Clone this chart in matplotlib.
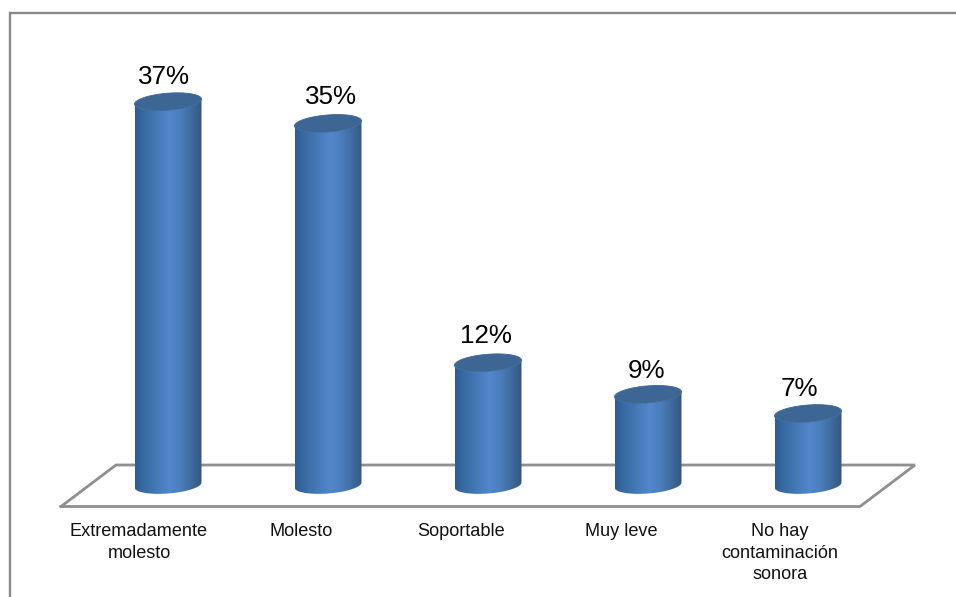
'''
Cylinder bar chart, noise annoyance survey.
Drawn by hand since matplotlib has no 3D cylinder column type.
'''
import matplotlib
matplotlib.use('Agg')
import matplotlib.pyplot as plt
from matplotlib.colors import LinearSegmentedColormap
from matplotlib.path import Path
from matplotlib.patches import PathPatch
import numpy as np

categories = ['Extremadamente\nmolesto', 'Molesto', 'Soportable', 'Muy leve',
              'No hay\ncontaminación\nsonora']
values = [37.0, 34.9, 11.8, 8.75, 6.9]
value_labels = ['37%', '35%', '12%', '9%', '7%']

W, H = 956, 597
x0_px, y0_px = 168, 485      # pixel of first bar's base
dx_px, dy_px = 160, 10.36    # pixels per category, per percent
half_w = 33.5/dx_px
ell_b = 8.5/dy_px
ell_tilt = 2.5/dy_px

plt.rcParams['font.family'] = ['Liberation Sans', 'DejaVu Sans']
fig = plt.figure(figsize=(W/100, H/100), dpi=100)

# pixel axes for frame, floor
pax = fig.add_axes([0, 0, 1, 1])
pax.set_xlim(0, W)
pax.set_ylim(H, 0)
pax.axis('off')
pax.plot([10, 10, W], [H, 12.5, 12.5], color='#8a8a8a', lw=1.7, solid_joinstyle='miter')
pax.plot([61, 860, 915, 116, 61], [506.5, 506.5, 465, 465, 506.5], color='#8f8f8f', lw=2,
         solid_joinstyle='miter')

# data axes, lined up so the scale gives the bar pixels
ax = fig.add_axes([0, 0, 1, 1], facecolor='none')
ax.set_xlim(-x0_px/dx_px, (W-x0_px)/dx_px)
ax.set_ylim(-(H-y0_px)/dy_px, y0_px/dy_px)
ax.axis('off')

cmap = LinearSegmentedColormap.from_list('cyl', [(0, '#2e5c92'), (0.2, '#3d70ab'), (0.52, '#5287cb'),
                                                 (0.7, '#4a7cba'), (0.85, '#3f6a9e'), (1, '#35577e')])
grad = np.linspace(0, 1, 256).reshape(1, -1)
t_bot = np.linspace(np.pi, 2*np.pi, 60)

for i, v in enumerate(values):
    # body outline, lower arc then upper arc back
    xb = i + half_w*np.cos(t_bot)
    yb = ell_b*np.sin(t_bot) + ell_tilt*np.cos(t_bot)
    xt = i + half_w*np.cos(t_bot[::-1])
    yt = v + ell_b*np.sin(t_bot[::-1]) + ell_tilt*np.cos(t_bot[::-1])
    verts = np.column_stack([np.r_[xb, xt], np.r_[yb, yt]])
    body = PathPatch(Path(np.vstack([verts, verts[0]])), fc='none', ec='none', transform=ax.transData)
    ax.add_patch(body)
    im = ax.imshow(grad, cmap=cmap, aspect='auto', zorder=2, interpolation='bilinear',
                   extent=(i-half_w, i+half_w, -2, v+2))
    im.set_clip_path(body)
    # top cap
    t = np.linspace(0, 2*np.pi, 120)
    ax.fill(i + half_w*np.cos(t), v + ell_b*np.sin(t) + ell_tilt*np.cos(t), color='#3d6695',
            ec='#3d6695', lw=0.6, zorder=3)

ax.set_xlim(-x0_px/dx_px, (W-x0_px)/dx_px)
ax.set_ylim(-(H-y0_px)/dy_px, y0_px/dy_px)

# value labels, nudged as in the original
nudge_x = [-4, 3, -2, -2, -9]
nudge_y = [25, 26, 27, 23, 25]
for i, v in enumerate(values):
    ax.annotate(value_labels[i], (i, v), xytext=(nudge_x[i]*0.72, nudge_y[i]*0.72), textcoords='offset points',
                ha='center', va='center', fontsize=18.7, color='black', zorder=5)

# category labels
label_x = [139, 301.5, 461.5, 621, 780]
for i, c in enumerate(categories):
    pax.text(label_x[i], 523, c, ha='center', va='top', fontsize=13.1, color='#111111', linespacing=1.36)

plt.savefig('out.png', dpi=100)
